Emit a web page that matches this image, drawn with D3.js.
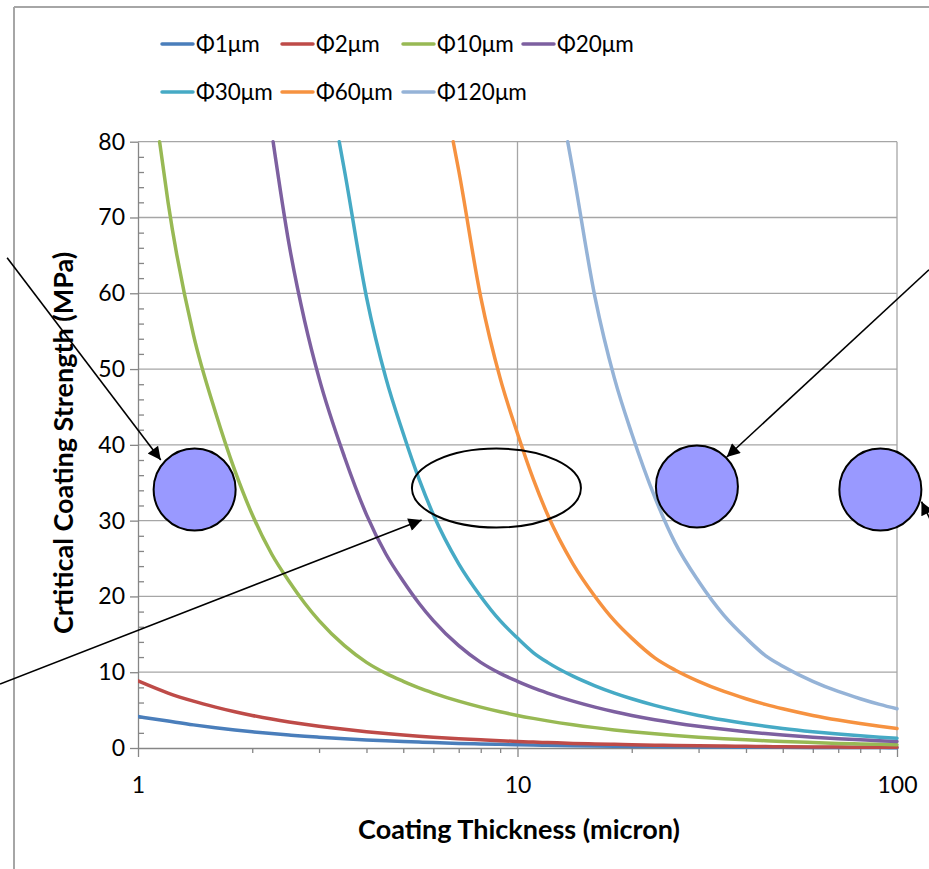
<!DOCTYPE html>
<html>
<head>
<meta charset="utf-8">
<script src="https://cdn.jsdelivr.net/npm/d3@7"></script>
<style>
  html, body { margin: 0; padding: 0; background: #fff; }
  svg { display: block; font-family: Lato, "Open Sans", sans-serif; }
</style>
</head>
<body>
<svg id="chart" width="929" height="869"></svg>
<script>
// Coating thickness (micron) shared by every series
const thickness = [1, 1.2, 1.4, 1.6, 1.8, 2, 2.25, 2.5, 2.75, 3, 3.5, 4, 4.5, 5, 5.5, 6, 7, 8, 9, 10,
  11, 12, 14, 16, 18, 20, 23, 26, 30, 35, 40, 45, 50, 60, 70, 80, 90, 100];

// Critical coating strength (MPa); null where the curve is above the 80 MPa axis limit
const phi1 = [4.15, 3.55, 3.05, 2.67, 2.38, 2.14, 1.9, 1.71, 1.55, 1.42, 1.22, 1.07, 0.95, 0.86, 0.78, 0.71, 0.61, 0.54, 0.48, 0.43,
  0.39, 0.36, 0.31, 0.27, 0.24, 0.21, 0.19, 0.17, 0.14, 0.12, 0.11, 0.1, 0.09, 0.07, 0.06, 0.05, 0.05, 0.04];
const phi2 = [8.85, 7.25, 6.18, 5.4, 4.78, 4.3, 3.82, 3.44, 3.13, 2.87, 2.46, 2.15, 1.91, 1.72, 1.56, 1.43, 1.23, 1.08, 0.96, 0.86,
  0.78, 0.72, 0.61, 0.54, 0.48, 0.43, 0.37, 0.33, 0.29, 0.25, 0.22, 0.19, 0.17, 0.14, 0.12, 0.11, 0.1, 0.09];
const phi10 = [null, 72, 54.5, 44.3, 36.6, 30.8, 25.6, 22, 19.1, 16.8, 13.5, 11.3, 9.85, 8.8, 7.93, 7.25, 6.18, 5.39, 4.78, 4.3,
  3.91, 3.58, 3.07, 2.69, 2.39, 2.15, 1.87, 1.65, 1.43, 1.23, 1.08, 0.96, 0.86, 0.72, 0.61, 0.54, 0.48, 0.43];
const phi20 = [null, null, null, null, null, null, null, 66.5, 56.3, 48.8, 38.4, 30.8, 25.6, 22, 19.1, 16.8, 13.5, 11.3, 9.85, 8.8,
  7.93, 7.25, 6.18, 5.39, 4.78, 4.3, 3.74, 3.31, 2.87, 2.46, 2.15, 1.91, 1.72, 1.43, 1.23, 1.08, 0.96, 0.86];
const phi30 = [null, null, null, null, null, null, null, null, null, null, 76.2, 59.5, 48.8, 41.5, 35.5, 30.8, 24.3, 20, 16.8, 14.5,
  12.6, 11.3, 9.48, 8.21, 7.25, 6.5, 5.63, 4.97, 4.3, 3.69, 3.23, 2.87, 2.58, 2.15, 1.84, 1.61, 1.43, 1.29];
const phi60 = [null, null, null, null, null, null, null, null, null, null, null, null, null, null, null, null, 76.2, 59.5, 48.8, 41.5,
  35.5, 30.8, 24.3, 20, 16.8, 14.5, 11.9, 10.3, 8.8, 7.46, 6.5, 5.75, 5.17, 4.3, 3.69, 3.23, 2.87, 2.58];
const phi120 = [null, null, null, null, null, null, null, null, null, null, null, null, null, null, null, null, null, null, null, null,
  null, null, 76.2, 59.5, 48.8, 41.5, 33.1, 27.1, 22, 17.5, 14.5, 12.2, 10.8, 8.8, 7.46, 6.5, 5.75, 5.17];

// Thickness at which each curve leaves the top of the plot (80 MPa)
const topEntry = [null, null, 1.14, 2.27, 3.39, 6.77, 13.56];

const seriesNames = ["Φ1μm", "Φ2μm", "Φ10μm", "Φ20μm", "Φ30μm", "Φ60μm", "Φ120μm"];
const seriesValues = [phi1, phi2, phi10, phi20, phi30, phi60, phi120];
const seriesColors = ["#4A7EBB", "#BE4B48", "#98B954", "#7D60A0", "#46AAC5", "#F69240", "#95B3D7"];

const yTicks = [0, 10, 20, 30, 40, 50, 60, 70, 80];
const yMinorTicks = d3.range(0, 81, 2);
const xTicks = [1, 10, 100];
const xTickLabels = ["1", "10", "100"];
const xMinorTicks = [2, 3, 4, 5, 6, 7, 8, 9, 20, 30, 40, 50, 60, 70, 80, 90];

// Marked regions: circles and an ellipse, positioned in (thickness, MPa)
const markedCircles = [
  { t: 1.41, v: 34.1 },
  { t: 29.7, v: 34.5 },
  { t: 90.4, v: 34.1 }
];
const markedEllipse = { t: 8.8, v: 34.3 };
// Pointer arrows: tail -> tip in (thickness, MPa)
const pointers = [
  { t0: 0.452, v0: 64.7, t1: 1.148, v1: 38.0 },
  { t0: 0.433, v0: 8.44, t1: 5.59, v1: 30.1 },
  { t0: 121.4, v0: 63.1, t1: 35.6, v1: 38.4 },
  { t0: 146.6, v0: 22.2, t1: 116, v1: 32.5 }
];

const svg = d3.select("#chart");
const plot = { left: 138, right: 897, top: 141.7, bottom: 748 };

const x = d3.scaleLog().domain([1, 100]).range([plot.left, plot.right]);
const y = d3.scaleLinear().domain([0, 80]).range([plot.bottom, plot.top]);

// outer chart frame
svg.append("line").attr("x1", 14).attr("x2", 14).attr("y1", 7).attr("y2", 869)
  .attr("stroke", "#A6A6A6").attr("stroke-width", 2);
svg.append("line").attr("x1", 14).attr("x2", 929).attr("y1", 7).attr("y2", 7)
  .attr("stroke", "#A6A6A6").attr("stroke-width", 2);

// gridlines
const grid = svg.append("g").attr("stroke", "#A6A6A6").attr("stroke-width", 1.3);
grid.selectAll("line.h").data(yTicks.filter(d => d > 0)).join("line")
  .attr("x1", plot.left).attr("x2", plot.right)
  .attr("y1", d => y(d)).attr("y2", d => y(d));
grid.selectAll("line.v").data(xTicks.filter(d => d > 1)).join("line")
  .attr("x1", d => x(d)).attr("x2", d => x(d))
  .attr("y1", plot.top).attr("y2", plot.bottom);

// axes
function styleAxis(g) {
  g.selectAll("path.domain").attr("stroke", "#868686").attr("stroke-width", 1.3);
  g.selectAll(".tick line").attr("stroke", "#868686").attr("stroke-width", 1.3);
  g.selectAll(".tick text").attr("fill", "#000").style("font-size", "23px")
    .style("font-family", "Lato, 'Open Sans', sans-serif");
}

const yAxis = svg.append("g").attr("transform", `translate(${plot.left},0)`)
  .call(d3.axisLeft(y).tickValues(yTicks).tickSize(8).tickPadding(5).tickSizeOuter(0).tickFormat(d3.format("d")));
styleAxis(yAxis);
const yMinor = svg.append("g").attr("transform", `translate(${plot.left},0)`)
  .call(d3.axisRight(y).tickValues(yMinorTicks.filter(d => d % 10 !== 0)).tickSize(6).tickSizeOuter(0).tickFormat(""));
styleAxis(yMinor);
yMinor.select("path.domain").remove();

const xAxis = svg.append("g").attr("transform", `translate(0,${plot.bottom})`)
  .call(d3.axisBottom(x).tickValues(xTicks).tickSize(9).tickPadding(20).tickSizeOuter(0)
    .tickFormat((d, i) => xTickLabels[i]));
styleAxis(xAxis);
const xMinor = svg.append("g").attr("transform", `translate(0,${plot.bottom})`)
  .call(d3.axisBottom(x).tickValues(xMinorTicks).tickSize(5).tickSizeOuter(0).tickFormat(""));
styleAxis(xMinor);
xMinor.select("path.domain").remove();

// axis titles
svg.append("text").attr("x", 519).attr("y", 839).attr("text-anchor", "middle")
  .style("font-size", "27px").style("font-weight", "bold").attr("fill", "#000")
  .text("Coating Thickness (micron)");
svg.append("text").attr("transform", "translate(73,443) rotate(-90)").attr("text-anchor", "middle")
  .style("font-size", "27px").style("font-weight", "bold").attr("fill", "#000")
  .text("Crtitical Coating Strength (MPa)");

// series
svg.append("clipPath").attr("id", "plotClip").append("rect")
  .attr("x", plot.left).attr("y", plot.top - 2)
  .attr("width", plot.right - plot.left + 2).attr("height", plot.bottom - plot.top + 4);

const line = d3.line().x(d => x(d.t)).y(d => y(d.v)).curve(d3.curveMonotoneX);
const seriesG = svg.append("g").attr("clip-path", "url(#plotClip)");
seriesValues.forEach((vals, i) => {
  const pts = thickness.map((t, j) => ({ t, v: vals[j] })).filter(d => d.v !== null);
  if (topEntry[i] !== null) pts.unshift({ t: topEntry[i], v: 80 });
  seriesG.append("path").datum(pts)
    .attr("fill", "none").attr("stroke", seriesColors[i]).attr("stroke-width", 3.5)
    .attr("stroke-linejoin", "round").attr("stroke-linecap", "round")
    .attr("d", line);
});

// legend
const legendCols = [162, 282, 403, 523];
const legendRows = [44, 92];
const legend = svg.append("g");
seriesNames.forEach((name, i) => {
  const lx = legendCols[i % 4], ly = legendRows[Math.floor(i / 4)];
  legend.append("line").attr("x1", lx).attr("x2", lx + 31).attr("y1", ly).attr("y2", ly)
    .attr("stroke", seriesColors[i]).attr("stroke-width", 3.5).attr("stroke-linecap", "round");
  legend.append("text").attr("x", lx + 34).attr("y", ly).attr("dy", "0.36em")
    .style("font-size", "22.5px").attr("fill", "#000").text(name);
});

// annotations
const defs = svg.append("defs");
defs.append("marker").attr("id", "arrowHead").attr("viewBox", "0 0 10 10")
  .attr("refX", 10).attr("refY", 5).attr("markerUnits", "userSpaceOnUse")
  .attr("markerWidth", 16).attr("markerHeight", 13).attr("orient", "auto")
  .append("path").attr("d", "M0,0 L10,5 L0,10 Z").attr("fill", "#000");

const notes = svg.append("g");
notes.selectAll("circle").data(markedCircles).join("circle")
  .attr("cx", d => x(d.t)).attr("cy", d => y(d.v)).attr("r", 41)
  .attr("fill", "#9999FF").attr("stroke", "#000").attr("stroke-width", 2);
notes.append("ellipse")
  .attr("cx", x(markedEllipse.t)).attr("cy", y(markedEllipse.v)).attr("rx", 84.5).attr("ry", 39.5)
  .attr("fill", "none").attr("stroke", "#000").attr("stroke-width", 2);
notes.selectAll("line").data(pointers).join("line")
  .attr("x1", d => x(d.t0)).attr("y1", d => y(d.v0))
  .attr("x2", d => x(d.t1)).attr("y2", d => y(d.v1))
  .attr("stroke", "#000").attr("stroke-width", 1.6)
  .attr("marker-end", "url(#arrowHead)");
</script>
</body>
</html>
